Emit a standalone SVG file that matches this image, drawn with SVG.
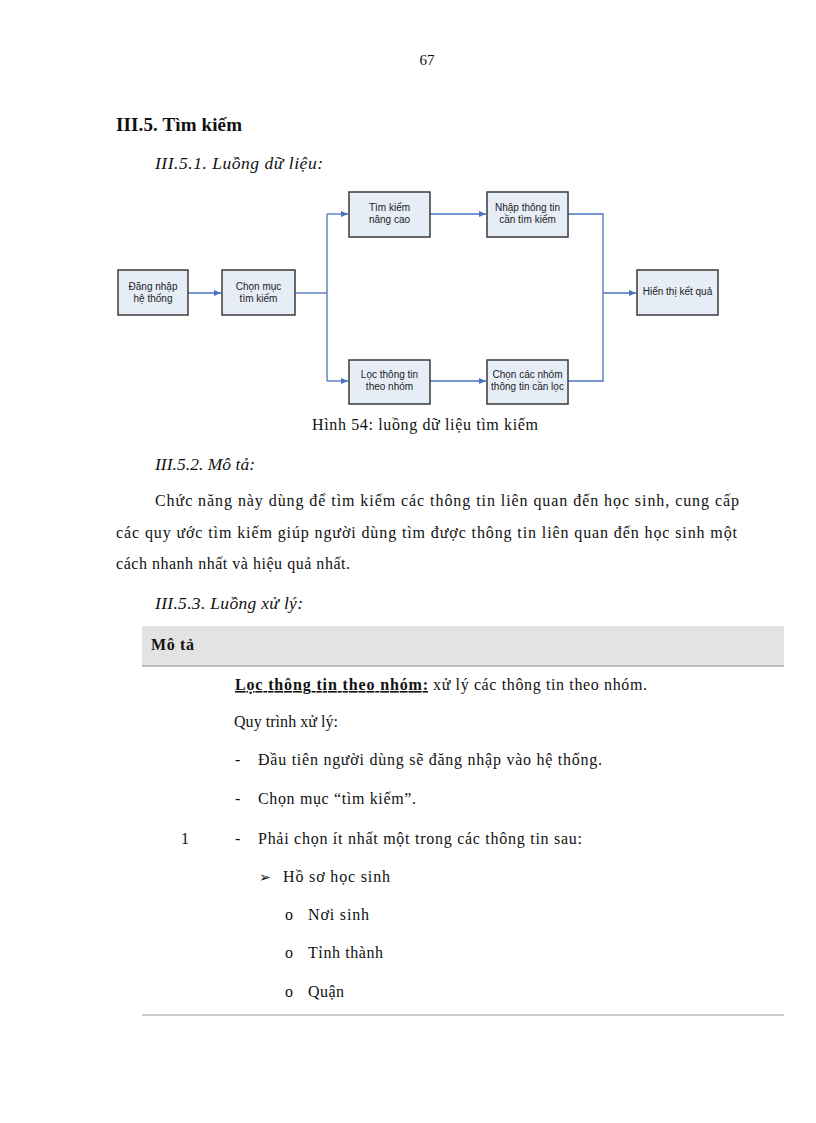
<svg xmlns="http://www.w3.org/2000/svg" width="816" height="1123" viewBox="0 0 816 1123">
<style>
.serif{font-family:"Liberation Serif","Times New Roman",serif;fill:#111;font-size:16px}
.it{font-style:italic;font-size:17.5px}
.bold{font-weight:bold}
.box{fill:#e6edf7;stroke:#3a3a3a;stroke-width:1.5}
.bt{font-family:"Liberation Sans",Arial,sans-serif;font-size:10px;fill:#222;text-anchor:middle}
.conn{fill:none;stroke:#4a72c0;stroke-width:1.3}
.rule{stroke:#9a9a9a;stroke-width:1}
</style>
<defs>
<marker id="arr" markerWidth="8" markerHeight="8" refX="7" refY="4" orient="auto" markerUnits="userSpaceOnUse">
<path d="M0,1 L7,4 L0,7 Z" fill="#4a72c0"/>
</marker>
</defs>
<rect width="816" height="1123" fill="#fff"/>

<text class="serif" x="427" y="65" text-anchor="middle" style="font-size:15px">67</text>
<text class="serif bold" x="116" y="131" style="font-size:19px" textLength="126" lengthAdjust="spacing">III.5. Tìm kiếm</text>
<text class="serif it" x="155" y="169" textLength="168" lengthAdjust="spacing">III.5.1. Luồng dữ liệu:</text>

<g id="connectors">
<path class="conn" d="M188,293 H221" marker-end="url(#arr)"/>
<path class="conn" d="M295,293 H327"/>
<path class="conn" d="M327,214 V381"/>
<path class="conn" d="M327,214 H348" marker-end="url(#arr)"/>
<path class="conn" d="M327,381 H348" marker-end="url(#arr)"/>
<path class="conn" d="M430,214 H486" marker-end="url(#arr)"/>
<path class="conn" d="M430,381 H486" marker-end="url(#arr)"/>
<path class="conn" d="M568,214 H603 V381 H568"/>
<path class="conn" d="M603,293 H636" marker-end="url(#arr)"/>
</g>

<g id="n-dangnhap">
<rect class="box" x="118" y="270" width="70" height="45"/>
<text class="bt" x="153" y="290">Đăng nhập</text>
<text class="bt" x="153" y="302">hệ thống</text>
</g>
<g id="n-chonmuc">
<rect class="box" x="222" y="270" width="73" height="45"/>
<text class="bt" x="258.5" y="290">Chọn mục</text>
<text class="bt" x="258.5" y="302">tìm kiếm</text>
</g>
<g id="n-timkiem">
<rect class="box" x="349" y="192" width="81" height="45"/>
<text class="bt" x="389.5" y="211">Tìm kiếm</text>
<text class="bt" x="389.5" y="223">nâng cao</text>
</g>
<g id="n-nhap">
<rect class="box" x="487" y="192" width="81" height="45"/>
<text class="bt" x="527.5" y="211">Nhập thông tin</text>
<text class="bt" x="527.5" y="223">cần tìm kiếm</text>
</g>
<g id="n-loc">
<rect class="box" x="349" y="360" width="81" height="44"/>
<text class="bt" x="389.5" y="378">Lọc thông tin</text>
<text class="bt" x="389.5" y="390">theo nhóm</text>
</g>
<g id="n-chonnhom">
<rect class="box" x="487" y="360" width="81" height="44"/>
<text class="bt" x="527.5" y="378">Chọn các nhóm</text>
<text class="bt" x="527.5" y="390">thông tin cần lọc</text>
</g>
<g id="n-hienthi">
<rect class="box" x="637" y="270" width="81" height="45"/>
<text class="bt" x="677.5" y="295">Hiển thị kết quả</text>
</g>

<text class="serif" x="312" y="430" textLength="226" lengthAdjust="spacing">Hình 54: luồng dữ liệu tìm kiếm</text>
<text class="serif it" x="155" y="470" textLength="100" lengthAdjust="spacing">III.5.2. Mô tả:</text>
<text class="serif" x="155" y="506" textLength="584" lengthAdjust="spacing">Chức năng này dùng để tìm kiếm các thông tin liên quan đến học sinh, cung cấp</text>
<text class="serif" x="116" y="538" textLength="621" lengthAdjust="spacing">các quy ước tìm kiếm giúp người dùng tìm được thông tin liên quan đến học sinh một</text>
<text class="serif" x="116" y="569" textLength="234" lengthAdjust="spacing">cách nhanh nhất và hiệu quả nhất.</text>
<text class="serif it" x="155" y="609" textLength="148" lengthAdjust="spacing">III.5.3. Luồng xử lý:</text>

<g id="table">
<rect x="142" y="626" width="642" height="40" fill="#e3e3e3"/>
<line x1="142" y1="666" x2="784" y2="666" stroke="#8a8a8a" stroke-width="1.2"/>
<text class="serif bold" x="151" y="650" textLength="43" lengthAdjust="spacing">Mô tả</text>
<text class="serif bold" x="235" y="690" textLength="193" lengthAdjust="spacing" text-decoration="underline">Lọc thông tin theo nhóm: </text>
<text class="serif" x="433" y="690" textLength="214" lengthAdjust="spacing">xử lý các thông tin theo nhóm.</text>
<text class="serif" x="234" y="727" textLength="104" lengthAdjust="spacing">Quy trình xử lý:</text>
<text class="serif" x="235" y="765">-</text>
<text class="serif" x="258" y="765" textLength="344" lengthAdjust="spacing">Đầu tiên người dùng sẽ đăng nhập vào hệ thống.</text>
<text class="serif" x="235" y="804">-</text>
<text class="serif" x="258" y="804" textLength="158" lengthAdjust="spacing">Chọn mục “tìm kiếm”.</text>
<text class="serif" x="181" y="844">1</text>
<text class="serif" x="235" y="844">-</text>
<text class="serif" x="258" y="844" textLength="324" lengthAdjust="spacing">Phải chọn ít nhất một trong các thông tin sau:</text>
<text x="259" y="882" font-family="'DejaVu Sans',sans-serif" font-size="14" fill="#111">➢</text>
<text class="serif" x="283" y="882" textLength="107" lengthAdjust="spacing">Hồ sơ học sinh</text>
<text class="serif" x="285" y="920">o</text>
<text class="serif" x="308" y="920" textLength="61" lengthAdjust="spacing">Nơi sinh</text>
<text class="serif" x="285" y="958">o</text>
<text class="serif" x="308" y="958" textLength="75" lengthAdjust="spacing">Tỉnh thành</text>
<text class="serif" x="285" y="997">o</text>
<text class="serif" x="308" y="997" textLength="36" lengthAdjust="spacing">Quận</text>
<line class="rule" x1="142" y1="1015" x2="784" y2="1015"/>
</g>
</svg>
